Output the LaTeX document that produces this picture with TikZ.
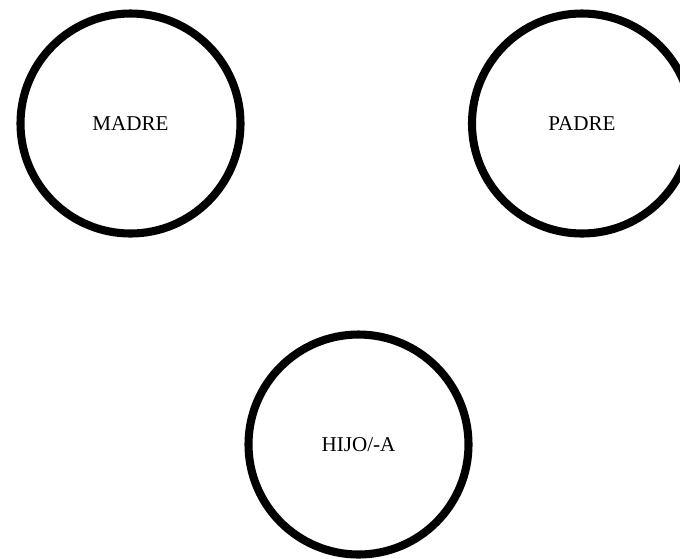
\documentclass[tikz,border=0pt]{standalone}
\usepackage{fontspec}
\setmainfont{Liberation Serif}
\usetikzlibrary{positioning}
\tikzstyle{persona}=[%
  draw,
  circle,
  line width=4.6pt,
  minimum size=4.4cm,
  inner sep=0pt,
  font=\fontsize{12}{14}\selectfont
]

\begin{document}
\begin{tikzpicture}
      \clip (0, 0) rectangle (13.6, -11.16);
      \node[persona] (madre) at (2.61, -2.47) {MADRE};
      \node[persona] (padre) at (11.64, -2.47) {PADRE};
      \node[persona] (hijo) at (7.17, -8.89) {HIJO/-A};
    \end{tikzpicture}
\end{document}
